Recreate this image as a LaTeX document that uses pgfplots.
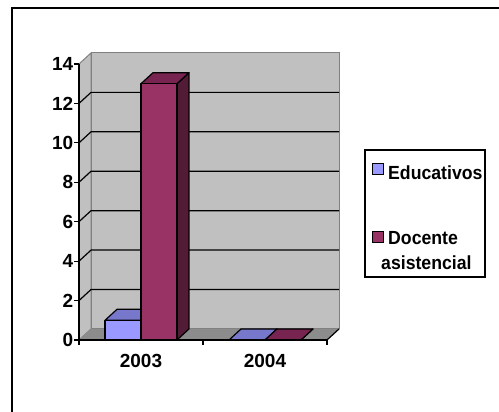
\documentclass[border=0pt]{standalone}
\usepackage{pgfplots}
\pgfplotsset{compat=1.18}
\usepackage{fontspec}
\setmainfont{Liberation Sans}
\newfontfamily\legfont[FakeStretch=0.93]{Liberation Sans}

\definecolor{eduFront}{HTML}{9999FF}
\definecolor{eduTop}{HTML}{7777CC}
\definecolor{eduSide}{HTML}{5C5C99}
\definecolor{docFront}{HTML}{993366}
\definecolor{docTop}{HTML}{772451}
\definecolor{docSide}{HTML}{521B36}
\definecolor{wall}{HTML}{C0C0C0}
\definecolor{floorgray}{HTML}{8C8C8C}
\definecolor{edge}{HTML}{808080}

% depth of the 3-D box, in axis units
\def\dx{0.097}
\def\dy{0.56}

% one 3-D column: #1 left, #2 right, #3 value, #4 front, #5 top, #6 side colour
\newcommand\columnthreed[6]{%
  \pgfmathsetmacro\bxa{#1}%
  \pgfmathsetmacro\bxb{#2}%
  \pgfmathsetmacro\bxc{#1+\dx}%
  \pgfmathsetmacro\bxd{#2+\dx}%
  \pgfmathsetmacro\bv{#3}%
  \pgfmathsetmacro\bw{#3+\dy}%
  \edef\doplot{%
    \noexpand\addplot[fill=#6,draw=black,line width=1.2pt,line join=round]
      coordinates {(\bxb,0) (\bxb,\bv) (\bxd,\bw) (\bxd,\dy)} -- cycle;
    \noexpand\addplot[fill=#5,draw=black,line width=1.2pt,line join=round]
      coordinates {(\bxa,\bv) (\bxb,\bv) (\bxd,\bw) (\bxc,\bw)} -- cycle;
    \noexpand\addplot[fill=#4,draw=black,line width=1.2pt,line join=round]
      coordinates {(\bxa,0) (\bxb,0) (\bxb,\bv) (\bxa,\bv)} -- cycle;
  }\doplot
}

\begin{document}
\begin{tikzpicture}[x=1pt,y=1pt]
\useasboundingbox (0,0) rectangle (499,412);
\draw[line width=1.5pt] (12,0) -- (12,404) -- (499,404);

\begin{axis}[
  at={(79pt,72pt)}, anchor=south west,
  scale only axis, width=248pt, height=276pt,
  xmin=0, xmax=2, ymin=0, ymax=14,
  clip=false, axis on top,
  axis lines*=left,
  axis line style={line width=1.3pt, black},
  xtick={0,1,2}, xticklabels={},
  extra x ticks={0.5,1.5}, extra x tick labels={2003,2004},
  extra x tick style={major tick length=0pt, tick label style={yshift=-14pt}},
  ytick={0,2,...,14},
  tick align=outside, major tick length=5pt,
  tick style={black, line width=1.2pt},
  tick label style={font=\bfseries\fontsize{19}{19}\selectfont, inner sep=0.5pt},
  /pgf/number format/assume math mode=true,
]
% walls and floor
\fill[wall, draw=edge, line width=1pt] (axis cs:0,0) -- (axis cs:0,14) -- (axis cs:\dx,14+\dy) -- (axis cs:\dx,\dy) -- cycle;
\fill[wall, draw=edge, line width=1pt] (axis cs:\dx,\dy) -- (axis cs:\dx,14+\dy) -- (axis cs:2+\dx,14+\dy) -- (axis cs:2+\dx,\dy) -- cycle;
\fill[floorgray] (axis cs:0,0) -- (axis cs:2,0) -- (axis cs:2+\dx,\dy) -- (axis cs:\dx,\dy) -- cycle;
\draw[black, line width=1.2pt] (axis cs:2,0) -- (axis cs:2+\dx,\dy);
% gridlines on the side and back walls
\pgfplotsinvokeforeach{2,4,...,12}{
  \draw[black, line width=1.2pt] (axis cs:0,#1) -- (axis cs:\dx,#1+\dy) -- (axis cs:2+\dx,#1+\dy);
}
% columns
\columnthreed{0.21}{0.5}{1}{eduFront}{eduTop}{eduSide}
\columnthreed{0.5}{0.79}{13}{docFront}{docTop}{docSide}
\columnthreed{1.21}{1.5}{0}{eduFront}{eduTop}{eduSide}
\columnthreed{1.5}{1.79}{0}{docFront}{docTop}{docSide}
\end{axis}

% legend
\draw[line width=1.3pt] (365,135) rectangle (485,262);
\filldraw[fill=eduFront, line width=1pt] (372,237) rectangle (383,248);
\filldraw[fill=docFront, line width=1pt] (372,169) rectangle (383,180);
\begin{scope}[every node/.style={anchor=base west, inner sep=0pt, font=\legfont\bfseries\fontsize{19}{19}\selectfont}]
\node at (388,232) {Educativos};
\node at (388,167) {Docente};
\node at (381,142) {asistencial};
\end{scope}
\end{tikzpicture}
\end{document}
